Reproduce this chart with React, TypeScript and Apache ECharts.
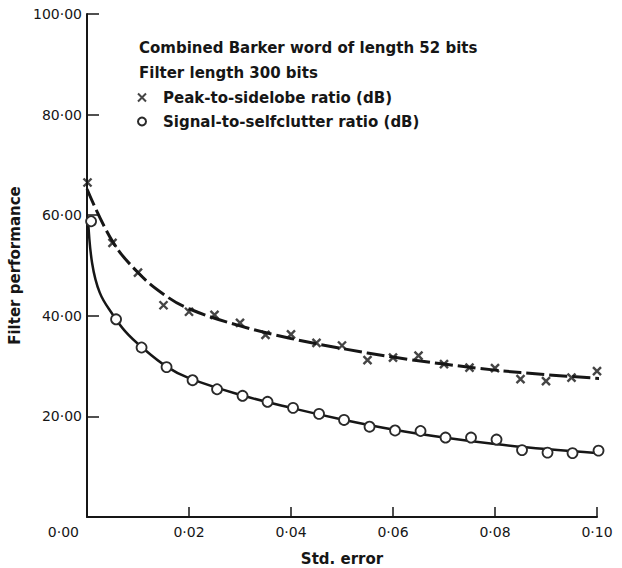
import React, { useEffect, useRef } from "react";
import * as echarts from "echarts";

const titleLines = ["Combined Barker word of length 52 bits", "Filter length 300 bits"];
const seriesNames = ["Peak-to-sidelobe ratio (dB)", "Signal-to-selfclutter ratio (dB)"];
const xAxisName = "Std. error";
const yAxisName = "Filter performance";

// measured points (x = std. error, y = dB)
const peakPoints: [number, number][] = [
  [0.0001, 66.5], [0.005, 54.5], [0.01, 48.6], [0.015, 42.1], [0.02, 40.8],
  [0.025, 40.2], [0.03, 38.6], [0.035, 36.2], [0.04, 36.3], [0.045, 34.6],
  [0.05, 34.1], [0.055, 31.2], [0.06, 31.7], [0.065, 32.1], [0.07, 30.4],
  [0.075, 29.7], [0.08, 29.6], [0.085, 27.4], [0.09, 27.0], [0.095, 27.7],
  [0.1, 29.0],
];
const signalPoints: [number, number][] = [
  [0.0008, 58.8], [0.0057, 39.3], [0.0107, 33.7], [0.0156, 29.8], [0.0207, 27.2],
  [0.0255, 25.4], [0.0305, 24.1], [0.0354, 22.9], [0.0404, 21.7], [0.0455, 20.5],
  [0.0504, 19.3], [0.0554, 17.95], [0.0604, 17.2], [0.0654, 17.1], [0.0703, 15.8],
  [0.0753, 15.8], [0.0803, 15.4], [0.0853, 13.3], [0.0903, 12.8], [0.0952, 12.7],
  [0.1003, 13.2],
];

// fitted curves
const peakCurve: [number, number][] = [
  [0.0, 65.2], [0.005, 54.8], [0.01, 48.6], [0.015, 44.3], [0.02, 41.4],
  [0.03, 38.0], [0.04, 35.5], [0.05, 33.5], [0.06, 31.8], [0.07, 30.4],
  [0.08, 29.2], [0.09, 28.3], [0.1025, 27.4],
];
const signalCurve: [number, number][] = [
  [0.0002, 59.5], [0.001, 50.5], [0.0025, 44.6], [0.005, 40.3], [0.0075, 36.9],
  [0.0107, 33.8], [0.0156, 29.9], [0.02, 27.6], [0.03, 24.3], [0.04, 21.7],
  [0.05, 19.4], [0.06, 17.4], [0.07, 15.8], [0.08, 14.5], [0.09, 13.5],
  [0.1025, 12.5],
];

const FONT = "DejaVu Sans";
const INK = "#161616";
const fmt = (v: number) => v.toFixed(2).replace(".", "\u00b7");

export default function App() {
  const ref = useRef<HTMLDivElement>(null);
  useEffect(() => {
    if (!ref.current) return;
    const chart = echarts.init(ref.current, undefined, { renderer: "svg" });
    chart.setOption({
      animation: false,
      backgroundColor: "#ffffff",
      title: {
        text: titleLines.join("\n"),
        left: 139,
        top: 35,
        padding: 0,
        textStyle: { fontFamily: FONT, fontSize: 15, fontWeight: "bold", color: INK, lineHeight: 25 },
      },
      legend: {
        orient: "vertical",
        left: 137,
        top: 90,
        padding: 0,
        itemWidth: 8,
        itemHeight: 8,
        itemGap: 9,
        data: seriesNames,
        textStyle: { fontFamily: FONT, fontSize: 15, fontWeight: "bold", color: INK, lineHeight: 14, padding: [0, 0, 0, 12] },
      },
      grid: { left: 87, right: 25, top: 14, bottom: 51, containLabel: false, outerBoundsMode: "none" },
      xAxis: {
        type: "value",
        min: 0,
        max: 0.1,
        interval: 0.02,
        name: xAxisName,
        nameLocation: "middle",
        nameGap: 34,
        nameTextStyle: { fontFamily: FONT, fontSize: 15, fontWeight: "bold", color: INK },
        axisLine: { lineStyle: { color: INK, width: 2 } },
        axisTick: { inside: true, length: 10, lineStyle: { color: INK, width: 1.5 } },
        splitLine: { show: false },
        axisLabel: {
          margin: 8,
          fontFamily: FONT,
          fontSize: 14,
          color: INK,
          formatter: (v: number) => (v === 0 ? "" : fmt(v)),
        },
      },
      yAxis: {
        type: "value",
        min: 0,
        max: 100,
        interval: 20,
        name: yAxisName,
        nameLocation: "middle",
        nameGap: 42,
        nameTextStyle: { fontFamily: FONT, fontSize: 15, fontWeight: "bold", color: INK },
        axisLine: { lineStyle: { color: INK, width: 2 } },
        axisTick: { inside: true, length: 12, lineStyle: { color: INK, width: 1.5 } },
        splitLine: { show: false },
        axisLabel: {
          margin: 5,
          fontFamily: FONT,
          fontSize: 14,
          color: INK,
          formatter: (v: number) => (v === 0 ? "{o|" + fmt(v) + "}" : fmt(v)),
          rich: { o: { fontFamily: FONT, fontSize: 14, color: INK, padding: [30, 3, 0, 0] } },
        },
      },
      series: [
        {
          name: seriesNames[0] + " fit",
          type: "line",
          data: peakCurve,
          smooth: 0.4,
          showSymbol: false,
          symbol: "none",
          clip: false,
          silent: true,
          lineStyle: { color: INK, width: 3, type: [18, 5] },
          z: 2,
        },
        {
          name: seriesNames[1] + " fit",
          type: "line",
          data: signalCurve,
          smooth: 0.4,
          showSymbol: false,
          symbol: "none",
          clip: false,
          silent: true,
          lineStyle: { color: INK, width: 2.5 },
          z: 2,
        },
        {
          name: seriesNames[0],
          type: "scatter",
          data: peakPoints,
          symbol: "path://M0,0L10,10M10,0L0,10",
          symbolSize: 8,
          clip: false,
          itemStyle: { color: INK, borderColor: INK, borderWidth: 2.4 },
          z: 3,
        },
        {
          name: seriesNames[1],
          type: "scatter",
          data: signalPoints,
          symbol: "circle",
          symbolSize: 10,
          clip: false,
          itemStyle: { color: "#ffffff", borderColor: "#2a2a2a", borderWidth: 1.8, opacity: 1 },
          z: 3,
        },
      ],
    });
    return () => chart.dispose();
  }, []);
  return (
    <div
      ref={ref}
      style={{ position: "fixed", left: 0, top: 0, width: 622, height: 568 }}
    />
  );
}
